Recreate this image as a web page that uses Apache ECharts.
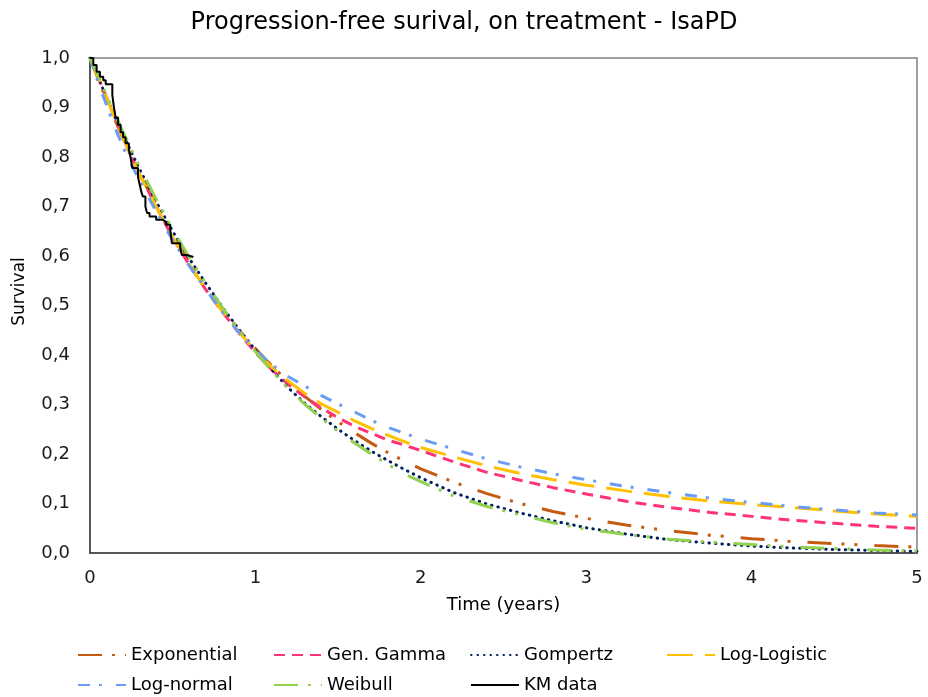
<!DOCTYPE html>
<html>
<head>
<meta charset="utf-8">
<script src="https://cdn.jsdelivr.net/npm/echarts@6/dist/echarts.min.js"></script>
<style>html,body{margin:0;padding:0;background:#fff}#c{width:928px;height:697px}</style>
</head>
<body>
<div id="c"></div>
<script>
var times = [0, 0.05, 0.1, 0.15, 0.2, 0.25, 0.3, 0.4, 0.5, 0.6, 0.7, 0.8, 0.9, 1.0, 1.1, 1.2, 1.3, 1.4, 1.5, 1.6, 1.7, 1.8, 1.9, 2.0, 2.2, 2.4, 2.6, 2.8, 3.0, 3.25, 3.5, 3.75, 4, 4.25, 4.5, 4.75, 5];
var exponential = [1, 0.957, 0.915, 0.876, 0.838, 0.80, 0.767, 0.702, 0.642, 0.588, 0.538, 0.493, 0.451, 0.413, 0.378, 0.346, 0.316, 0.29, 0.265, 0.243, 0.222, 0.203, 0.186, 0.170, 0.143, 0.12, 0.10, 0.084, 0.070, 0.056, 0.045, 0.036, 0.029, 0.023, 0.019, 0.015, 0.012];
var genGamma = [1, 0.96, 0.92, 0.88, 0.84, 0.80, 0.765, 0.70, 0.637, 0.582, 0.532, 0.487, 0.445, 0.405, 0.37, 0.34, 0.315, 0.293, 0.273, 0.256, 0.242, 0.228, 0.218, 0.207, 0.184, 0.163, 0.147, 0.132, 0.119, 0.104, 0.092, 0.082, 0.074, 0.066, 0.060, 0.054, 0.050];
var gompertz = [1, 0.96, 0.92, 0.882, 0.845, 0.81, 0.775, 0.71, 0.65, 0.595, 0.545, 0.497, 0.452, 0.41, 0.37, 0.333, 0.302, 0.275, 0.25, 0.227, 0.206, 0.187, 0.169, 0.152, 0.122, 0.099, 0.081, 0.065, 0.051, 0.038, 0.027, 0.020, 0.014, 0.010, 0.007, 0.005, 0.003];
var logLogistic = [1, 0.96, 0.92, 0.88, 0.84, 0.80, 0.765, 0.70, 0.638, 0.583, 0.533, 0.488, 0.447, 0.408, 0.375, 0.347, 0.322, 0.301, 0.284, 0.267, 0.252, 0.238, 0.225, 0.213, 0.194, 0.176, 0.161, 0.148, 0.137, 0.125, 0.114, 0.105, 0.098, 0.092, 0.085, 0.079, 0.074];
var logNormal = [1, 0.95, 0.905, 0.86, 0.82, 0.785, 0.752, 0.69, 0.632, 0.58, 0.533, 0.487, 0.446, 0.41, 0.38, 0.356, 0.337, 0.318, 0.301, 0.285, 0.268, 0.254, 0.242, 0.230, 0.210, 0.190, 0.174, 0.160, 0.148, 0.134, 0.122, 0.111, 0.102, 0.094, 0.087, 0.081, 0.077];
var weibull = [1, 0.965, 0.925, 0.887, 0.85, 0.815, 0.78, 0.715, 0.653, 0.597, 0.545, 0.496, 0.45, 0.407, 0.367, 0.332, 0.30, 0.272, 0.246, 0.222, 0.20, 0.179, 0.16, 0.144, 0.115, 0.094, 0.077, 0.061, 0.048, 0.037, 0.028, 0.022, 0.017, 0.012, 0.009, 0.006, 0.004];
var kmTimes = [0, 0.02, 0.04, 0.06, 0.08, 0.095, 0.135, 0.145, 0.155, 0.17, 0.185, 0.20, 0.215, 0.235, 0.245, 0.255, 0.29, 0.30, 0.31, 0.32, 0.335, 0.345, 0.36, 0.40, 0.44, 0.46, 0.485, 0.495, 0.545, 0.555, 0.585, 0.625];
var kmSurv = [1, 0.986, 0.972, 0.962, 0.955, 0.947, 0.925, 0.90, 0.88, 0.865, 0.85, 0.84, 0.828, 0.814, 0.80, 0.778, 0.76, 0.745, 0.73, 0.72, 0.70, 0.687, 0.68, 0.673, 0.669, 0.663, 0.653, 0.626, 0.618, 0.602, 0.598, 0.598];
var xTicks = [0, 1, 2, 3, 4, 5];

var FONT = 'DejaVu Sans';
function pairs(ys){ return times.map(function(t,i){ return [t, ys[i]]; }); }
function curve(name, ys, color, width, dash, cap){
  return {
    name: name, type: 'line', data: pairs(ys), symbol: 'none', smooth: false,
    lineStyle: {color: color, width: width, type: dash, cap: cap || 'butt'},
    itemStyle: {color: color}, z: 2
  };
}
var series = [
  curve('Exponential', exponential, '#C55A11', 3, [24, 10, 3, 10, 3, 17]),
  curve('Gen. Gamma', genGamma, '#FF3377', 3, [11, 7]),
  curve('Gompertz', gompertz, '#002060', 3, [0.5, 6], 'round'),
  curve('Log-Logistic', logLogistic, '#FFC000', 3, [26, 12]),
  curve('Log-normal', logNormal, '#6A9CF5', 3, [12, 9, 3, 14]),
  curve('Weibull', weibull, '#92D050', 3, [24, 10, 3, 10, 3, 17]),
  {
    name: 'KM data', type: 'line', step: 'end', symbol: 'none',
    data: kmTimes.map(function(t,i){ return [t, kmSurv[i]]; }),
    lineStyle: {color: '#000', width: 2}, itemStyle: {color: '#000'}, z: 5
  }
];
var legendPos = [
  ['Exponential', 77, 646], ['Gen. Gamma', 273, 646], ['Gompertz', 470, 646], ['Log-Logistic', 666, 646],
  ['Log-normal', 77, 676], ['Weibull', 273, 676], ['KM data', 470, 676]
];
var legends = legendPos.map(function(p){
  return {data: [p[0]], left: p[1], top: p[2], itemWidth: 48, itemHeight: 14, padding: 0,
    itemStyle: {opacity: 0},
    textStyle: {fontFamily: FONT, fontSize: 18, color: '#000'}, selectedMode: false};
});

var chart = echarts.init(document.getElementById('c'), null, {renderer: 'canvas'});
chart.setOption({
  animation: false,
  backgroundColor: '#fff',
  title: {text: 'Progression-free surival, on treatment - IsaPD', left: 'center', top: 6,
    textStyle: {fontFamily: FONT, fontSize: 24, fontWeight: 'normal', color: '#000'}},
  legend: legends,
  grid: {left: 90, right: 11, top: 58, bottom: 144, show: true, borderColor: '#808080', borderWidth: 1.5, containLabel: false},
  xAxis: {type: 'value', min: 0, max: 5, interval: 1, name: 'Time (years)', nameLocation: 'middle', nameGap: 43,
    nameTextStyle: {fontFamily: FONT, fontSize: 18, color: '#000'},
    axisLine: {show: true, lineStyle: {color: '#404040', width: 1.5}}, axisTick: {show: false}, splitLine: {show: false},
    axisLabel: {fontFamily: FONT, fontSize: 18, color: '#1a1a1a', margin: 16, formatter: function(v){ return xTicks.indexOf(v) >= 0 ? String(v) : ''; }}},
  yAxis: {type: 'value', min: 0, max: 1, interval: 0.1, name: 'Survival', nameLocation: 'middle', nameGap: 62,
    nameTextStyle: {fontFamily: FONT, fontSize: 17, color: '#000', padding: [0, 0, 0, 28]},
    axisLine: {show: true, lineStyle: {color: '#404040', width: 1.5}}, axisTick: {show: false}, splitLine: {show: false},
    axisLabel: {fontFamily: FONT, fontSize: 18, color: '#1a1a1a', margin: 20, formatter: function(v){ return v.toFixed(1).replace('.', ','); }}},
  series: series
});
</script>
</body>
</html>
